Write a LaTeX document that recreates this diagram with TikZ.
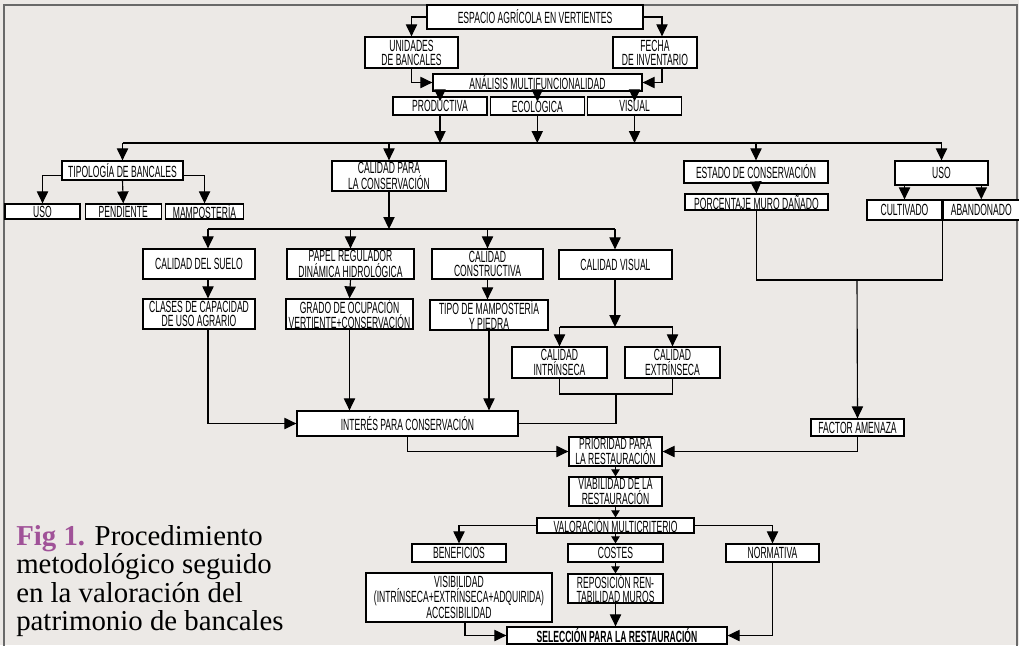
\documentclass[tikz,border=0pt]{standalone}
\usepackage{fontspec}
\newfontfamily\boxfont[FakeStretch=0.53]{Liberation Sans}
\newfontfamily\capfont{Liberation Serif}
\usetikzlibrary{calc, positioning, arrows.meta}
\definecolor{paper}{RGB}{236,233,230}
\definecolor{rim}{RGB}{105,105,105}
\definecolor{figpurple}{RGB}{160,82,152}

\begin{document}
\begin{tikzpicture}[x=0.025cm, y=-0.025cm,
	box/.style={draw, fill=white, line width=0.9pt, inner sep=0pt, align=center,
		font=\boxfont\fontsize{11.5}{10}\selectfont},
	sz/.style 2 args={minimum width=#1*0.025cm, minimum height=#2*0.025cm},
	arr/.style={-{Triangle[length=8.5pt,width=8pt]}, line width=0.8pt},
	sarr/.style={-{Triangle[length=5pt,width=6pt]}, line width=0.8pt},
	link/.style={line width=0.8pt},
	capline/.style={anchor=base west, inner sep=0pt, font=\capfont\fontsize{20.5}{21}\selectfont}]

	\useasboundingbox (0,0) rectangle (1019,645);
	\fill[paper] (0,0) rectangle (1019,645);
	\draw[rim, line width=1pt] (4,650) -- (4,5) -- (1017,5) -- (1017,650);

	% nodes - top block %
	\node[box, sz={216}{24}] (espacio) at (535,17) {ESPACIO AGRÍCOLA EN VERTIENTES};
	\node[box, sz={93}{31}] (unidades) at (411.5,52.5) {UNIDADES\\DE BANCALES};
	\node[box, sz={84}{31}] (fecha) at (655,52.5) {FECHA\\DE INVENTARIO};
	\node[box, sz={209}{17}] (analisis) at (537.5,82.5) {ANÁLISIS MULTIFUNCIONALIDAD};
	\node[box, sz={94}{18}] (productiva) at (440,106) {PRODUCTIVA};
	\node[box, sz={94}{18}, right=0.05cm of productiva] (ecologica) {ECOLÓGICA};
	\node[box, sz={94}{18}, right=0.05cm of ecologica] (visual) {VISUAL};

	% nodes - left branch %
	\node[box, sz={121}{19}] (tipologia) at (122.5,170.5) {TIPOLOGÍA DE BANCALES};
	\node[box, sz={75}{15}] (uso) at (42.5,211.5) {USO};
	\node[box, sz={76}{15}, right=0.1cm of uso] (pendiente) {PENDIENTE};
	\node[box, sz={78}{15}, right=0.075cm of pendiente] (mamposteria) {MAMPOSTERÍA};
	\node[box, sz={114}{30}] (calidadcons) at (389,176) {CALIDAD PARA\\LA CONSERVACIÓN};

	% nodes - right branch %
	\node[box, sz={144}{22}] (estado) at (756,172) {ESTADO DE CONSERVACIÓN};
	\node[box, sz={143}{16}] (porcentaje) at (756.5,202) {PORCENTAJE MURO DAÑADO};
	\node[box, sz={93}{24}] (usor) at (941.5,173) {USO};
	\node[box, sz={75}{20}] (cultivado) at (904.5,210) {CULTIVADO};
	\node[box, sz={76}{20}, right=0pt of cultivado] (abandonado) {ABANDONADO};
	\node[box, sz={93}{17}] (factor) at (857.5,427.5) {FACTOR AMENAZA};

	% nodes - calidad %
	\node[box, sz={112}{30}] (suelo) at (199,264) {CALIDAD DEL SUELO};
	\node[box, sz={127}{30}] (papel) at (350.5,264) {PAPEL REGULADOR\\DINÁMICA HIDROLÓGICA};
	\node[box, sz={111}{30}] (constructiva) at (487.5,264) {CALIDAD\\CONSTRUCTIVA};
	\node[box, sz={113}{29}] (cvisual) at (615.5,264.5) {CALIDAD VISUAL};
	\node[box, sz={112}{30}] (clases) at (199,314) {CLASES DE CAPACIDAD\\DE USO AGRARIO};
	\node[box, sz={127}{30}] (grado) at (349.5,314) {GRADO DE OCUPACIÓN\\VERTIENTE+CONSERVACIÓN};
	\node[box, sz={118}{30}] (tipo) at (489,315) {TIPO DE MAMPOSTERÍA\\Y PIEDRA};
	\node[box, sz={95}{31}] (intrinseca) at (559.5,362.5) {CALIDAD\\INTRÍNSECA};
	\node[box, sz={95}{31}] (extrinseca) at (672.5,362.5) {CALIDAD\\EXTRÍNSECA};
	\node[box, sz={221}{25}] (interes) at (407.5,423.5) {INTERÉS PARA CONSERVACIÓN};

	% nodes - restauracion %
	\node[box, sz={93}{29}] (prioridad) at (615.5,451.5) {PRIORIDAD PARA\\LA RESTAURACIÓN};
	\node[box, sz={93}{29}] (viabilidad) at (615.5,491.5) {VIABILIDAD DE LA\\RESTAURACIÓN};
	\node[box, sz={157}{15}] (valoracion) at (615.5,525.5) {VALORACIÓN MULTICRITERIO};
	\node[box, sz={94}{18}] (beneficios) at (459,553) {BENEFICIOS};
	\node[box, sz={95}{18}] (costes) at (615.5,553) {COSTES};
	\node[box, sz={93}{18}] (normativa) at (772.5,553) {NORMATIVA};
	\node[box, sz={186}{49}] (visibilidad) at (459,597.5) {VISIBILIDAD\\(INTRÍNSECA+EXTRÍNSECA+ADQUIRIDA)\\ACCESIBILIDAD};
	\node[box, sz={95}{29}] (reposicion) at (615.5,588.5) {REPOSICIÓN REN-\\TABILIDAD MUROS};
	\node[box, sz={220}{17}, font=\boxfont\bfseries\fontsize{11.5}{10}\selectfont] (seleccion) at (617,635.5) {SELECCIÓN PARA LA RESTAURACIÓN};

	% caption %
	\node[capline] (cap1) at (16,545) {\textcolor{figpurple}{\bfseries Fig 1.} Procedimiento};
	\node[capline] (cap2) at (16,573.5) {metodológico seguido};
	\node[capline] (cap3) at (16,602) {en la valoración del};
	\node[capline] (cap4) at (16,630.5) {patrimonio de bancales};

	% bus points %
	\coordinate (bus) at (536,143);
	\coordinate (b1) at (208,229);
	\coordinate (b4) at (615,229);
	\coordinate (b5) at (615,327);
	\coordinate (m) at (616,394);
	\coordinate (f) at (857,280);

	% edges - top %
	\draw[arr] (espacio.west) -| (unidades.north);
	\draw[arr] (espacio.east) -| ($(fecha.north)+(7,0)$);
	\draw[arr] (unidades.south) |- (analisis.west);
	\draw[arr] ($(fecha.south)+(7,0)$) |- (analisis.east);
	\draw[arr] (analisis.south -| productiva.north) -- ($(productiva.north)+(0,5)$);
	\draw[arr] (analisis.south -| ecologica.north) -- ($(ecologica.north)+(0,5)$);
	\draw[arr] (analisis.south -| visual.north) -- ($(visual.north)+(0,5)$);
	\draw[arr] (productiva.south) -- (productiva.south |- bus);
	\draw[arr] (ecologica.south) -- (ecologica.south |- bus);
	\draw[arr] (visual.south) -- (visual.south |- bus);
	\draw[link] (tipologia.north |- bus) -- (usor.north |- bus);
	\draw[arr] (tipologia.north |- bus) -- (tipologia.north);
	\draw[arr] (calidadcons.north |- bus) -- (calidadcons.north);
	\draw[arr] (estado.north |- bus) -- (estado.north);
	\draw[arr] (usor.north |- bus) -- (usor.north);

	% edges - tipologia %
	\draw[arr] ($(tipologia.west)+(0,5)$) -| (uso.north);
	\draw[arr] (tipologia.south) -- (pendiente.north);
	\draw[arr] ($(tipologia.east)+(0,5)$) -| (mamposteria.north);

	% edges - calidad %
	\draw[arr] (calidadcons.south) -- (calidadcons.south |- b1);
	\draw[link] (b1) -- (b4);
	\draw[arr] (b1) -- (b1 |- suelo.north);
	\draw[arr] (b1 -| papel.north) -- (papel.north);
	\draw[arr] (b1 -| constructiva.north) -- (constructiva.north);
	\draw[arr] (b4) -- (b4 |- cvisual.north);
	\draw[arr] (suelo.south -| b1) -- (clases.north -| b1);
	\draw[arr] (papel.south) -- (grado.north);
	\draw[arr] (constructiva.south) -- (constructiva.south |- tipo.north);
	\draw[arr] (clases.south -| b1) |- (interes.west);
	\draw[arr] (grado.south) -- (grado.south |- interes.north);
	\draw[arr] (tipo.south) -- (tipo.south |- interes.north);
	\draw[arr] (b4 |- cvisual.south) -- (b5);
	\draw[link] (b5 -| intrinseca.north) -- (b5 -| extrinseca.north);
	\draw[arr] (b5 -| intrinseca.north) -- (intrinseca.north);
	\draw[arr] (b5 -| extrinseca.north) -- (extrinseca.north);
	\draw[link] (intrinseca.south) |- (m) -| (extrinseca.south);
	\draw[link] (m) |- (interes.east);
	\draw[arr] (interes.south) |- (prioridad.west);

	% edges - right %
	\draw[arr] (estado.south) -- (porcentaje.north);
	\draw[arr] (usor.south -| cultivado.north) -- (cultivado.north);
	\draw[arr] (usor.south -| abandonado.north) -- (abandonado.north);
	\draw[link] (porcentaje.south) |- (f);
	\draw[link] (cultivado.south east) |- (f);
	\draw[arr] (f) -- (factor.north);
	\draw[arr] (factor.south) |- (prioridad.east);

	% edges - bottom %
	\draw[sarr] (prioridad.south) -- (viabilidad.north);
	\draw[sarr] (viabilidad.south) -- (valoracion.north);
	\draw[arr] (valoracion.west) -| (beneficios.north);
	\draw[sarr] (valoracion.south) -- (costes.north);
	\draw[arr] (valoracion.east) -| (normativa.north);
	\draw[sarr] (costes.south) -- (reposicion.north);
	\draw[arr] ($(visibilidad.south)+(6,0)$) |- (seleccion.west);
	\draw[arr] (reposicion.south) -- (reposicion.south |- seleccion.north);
	\draw[arr] (normativa.south) |- (seleccion.east);

\end{tikzpicture}
\end{document}
